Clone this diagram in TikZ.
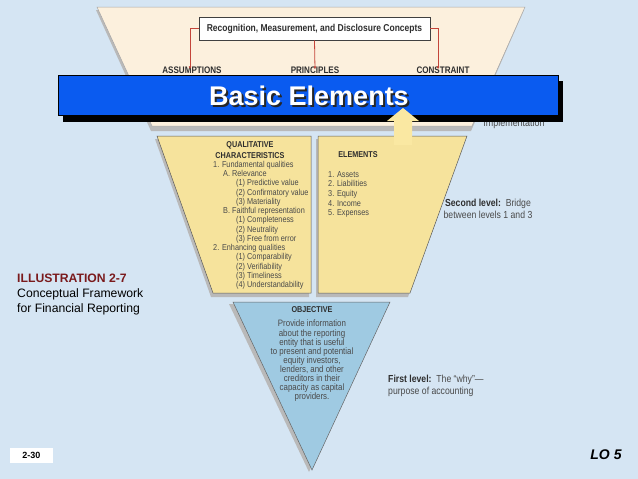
\documentclass[tikz,border=0pt]{standalone}
\usepackage{fontspec}
\setmainfont{Liberation Sans}
\newfontfamily\condfont[FakeStretch=0.85]{Liberation Sans}
\usepackage{xcolor}
\usepackage{tikz}
\usetikzlibrary{arrows.meta,positioning}

\definecolor{slidebg}{HTML}{D5E5F3}
\definecolor{creamfill}{HTML}{FCF0DD}
\definecolor{yelfill}{HTML}{F6E39C}
\definecolor{objfill}{HTML}{9FCAE2}
\definecolor{bannerblue}{HTML}{0A5BF0}
\definecolor{arrowred}{HTML}{C4453A}
\definecolor{illred}{HTML}{7A1A1C}
\definecolor{bodygray}{HTML}{4A4A4A}
\definecolor{headgray}{HTML}{2E2E2E}
\definecolor{upyellow}{HTML}{FAE8A2}

\begin{document}
\begin{tikzpicture}[
  x=1pt, y=-1pt,
  >=Latex,
  shadowshape/.style={fill=gray!55, draw=none},
  cream/.style={fill=creamfill, draw=gray!70, line width=0.5pt},
  lvl/.style={fill=yelfill, draw=black!65, line width=0.5pt},
  obj/.style={fill=objfill, draw=black!60, line width=0.5pt},
  head/.style={font=\condfont\bfseries\fontsize{8.5}{10.3}\selectfont, text=headgray, inner sep=0pt, align=center},
  toplabel/.style={font=\condfont\bfseries\fontsize{9.5}{11}\selectfont, text=headgray, inner sep=0pt},
  listtxt/.style={font=\condfont\fontsize{8.6}{9.25}\selectfont, text=bodygray, inner sep=0pt, align=left},
  sidetxt/.style={font=\condfont\fontsize{10.2}{12}\selectfont, text=bodygray, inner sep=0pt},
  redarr/.style={-{Latex[length=3pt,width=2.5pt]}, draw=arrowred, line width=0.8pt},
  slidetxt/.style={font=\fontsize{12.2}{15}\selectfont, inner sep=0pt, align=left}
]
\fill[slidebg] (0,0) rectangle (638,479);
\useasboundingbox (0,0) rectangle (638,479);

% Third level
\path[shadowshape] (96,10) -- (524,10) -- (471,131) -- (151,131) -- cycle;
\path[cream] (97,7) -- (525,7) -- (472,126) -- (152,126) -- cycle;
\node[draw=black!75, fill=white, line width=0.6pt, minimum width=231pt, minimum height=23pt,
  font=\condfont\bfseries\fontsize{10}{11}\selectfont, text=headgray] (rmd) at (314.5,28.5)
  {Recognition, Measurement, and Disclosure Concepts};
\node[toplabel] (assume) at (192,70) {ASSUMPTIONS};
\node[toplabel] (princ) at (315,70) {PRINCIPLES};
\node[toplabel] (constr) at (443,70) {CONSTRAINT};
\draw[redarr] (rmd.west) -| ([xshift=-2pt,yshift=-3pt]assume.north);
\draw[redarr] (rmd.south) -- ([yshift=-3pt]princ.north);
\draw[redarr] (rmd.east) -| ([xshift=-5pt,yshift=-3pt]constr.north);
\node[sidetxt, font=\condfont\fontsize{10.5}{12}\selectfont] (impl) at (514,124) {Implementation};

% Second level
\path[shadowshape] (155,139) -- (309,139) -- (309,297) -- (211,297) -- cycle;
\path[shadowshape] (316,139) -- (465,139) -- (408,297) -- (316,297) -- cycle;
\path[lvl] (157,136) -- (311,136) -- (311,293) -- (213,293) -- cycle;
\path[lvl] (318,136) -- (467,136) -- (410,293) -- (318,293) -- cycle;
\node[head] (qualhead) at (250,150) {QUALITATIVE\\CHARACTERISTICS};
\node[listtxt, anchor=north west] (qclist) at (213,161) {1. Fundamental qualities\\
  \hspace*{10pt}A. Relevance\\
  \hspace*{23pt}(1) Predictive value\\
  \hspace*{23pt}(2) Confirmatory value\\
  \hspace*{23pt}(3) Materiality\\
  \hspace*{10pt}B. Faithful representation\\
  \hspace*{23pt}(1) Completeness\\
  \hspace*{23pt}(2) Neutrality\\
  \hspace*{23pt}(3) Free from error\\
  2. Enhancing qualities\\
  \hspace*{23pt}(1) Comparability\\
  \hspace*{23pt}(2) Verifiability\\
  \hspace*{23pt}(3) Timeliness\\
  \hspace*{23pt}(4) Understandability};
\node[head] (elemhead) at (358,155) {ELEMENTS};
\node[listtxt, font=\condfont\fontsize{8.6}{9.7}\selectfont, anchor=north west] (elemlist) at (328,171)
  {1. Assets\\2. Liabilities\\3. Equity\\4. Income\\5. Expenses};
\node[sidetxt, align=center] (second) at (488,209)
  {{\bfseries\color{headgray}Second level:}\ \ Bridge\\between levels 1 and 3};

% First level
\path[shadowshape] (229,304) -- (386,304) -- (309,472) -- cycle;
\path[obj] (233,302) -- (390,302) -- (312,470) -- cycle;
\node[head] (objhead) at (312,310) {OBJECTIVE};
\node[listtxt, font=\condfont\fontsize{9.3}{9.1}\selectfont, align=center, anchor=north] (objtxt) at (312,320)
  {Provide information\\about the reporting\\entity that is useful\\to present and potential\\equity investors,\\lenders, and other\\creditors in their\\capacity as capital\\providers.};
\node[sidetxt, align=left, anchor=west] (first) at (388,386)
  {{\bfseries\color{headgray}First level:}\ \ The “why”—\\purpose of accounting};

% Slide texts
\node[slidetxt, anchor=north west] (illus) at (17,274)
  {{\bfseries\color{illred}ILLUSTRATION 2-7}\\Conceptual Framework\\for Financial Reporting};
\node[fill=white, minimum width=43pt, minimum height=15pt, inner sep=0pt,
  font=\bfseries\fontsize{9}{10}\selectfont] (slideno) at (31.5,455.5) {2-30};
\node[font=\bfseries\itshape\fontsize{14}{16}\selectfont, inner sep=0pt] (lo) at (606,455) {LO 5};

% Banner
\fill[black] (63,81) rectangle (563,122);
\node[fill=bannerblue, draw=black, line width=0.8pt, minimum width=500pt, minimum height=40pt,
  inner sep=0pt] (banner) at (308,95) {};
\node[font=\bfseries\fontsize{27}{29}\selectfont, text=black!85, inner sep=0pt] (bannershd) at (311,97.5) {Basic Elements};
\node[font=\bfseries\fontsize{27}{29}\selectfont, text=white, inner sep=0pt] (bannertxt) at (309,95.5) {Basic Elements};

% Up arrow
\fill[upyellow] (394,145) -- (412,145) -- (412,121) -- (419,121) -- (403,108) -- (387,121) -- (394,121) -- cycle;

\end{tikzpicture}
\end{document}
